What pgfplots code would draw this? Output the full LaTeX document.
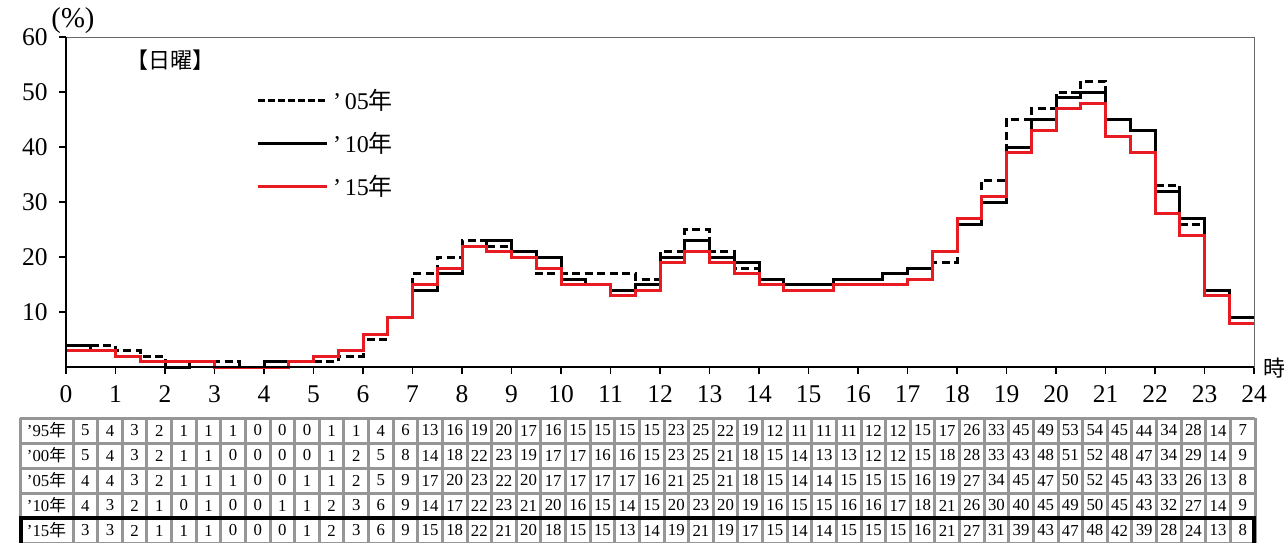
\documentclass[border=0pt]{standalone}
\usepackage{pgfplots}
\usepackage{pgfplotstable}
\pgfplotsset{compat=1.18}
\usepackage{fontspec}
\setmainfont{Liberation Serif}
\newfontfamily\jp{Noto Sans CJK JP}
\definecolor{myred}{RGB}{232,26,34}
\definecolor{tgrid}{RGB}{150,150,150}

\pgfplotstableread{
t y95 y00 y05 y10 y15
0 5 5 4 4 3
0.5 4 4 4 3 3
1 3 3 3 2 2
1.5 2 2 2 1 1
2 1 1 1 0 1
2.5 1 1 1 1 1
3 1 0 1 0 0
3.5 0 0 0 0 0
4 0 0 0 1 0
4.5 0 0 1 1 1
5 1 1 1 2 2
5.5 1 2 2 3 3
6 4 5 5 6 6
6.5 6 8 9 9 9
7 13 14 17 14 15
7.5 16 18 20 17 18
8 19 22 23 22 22
8.5 20 23 22 23 21
9 17 19 20 21 20
9.5 16 17 17 20 18
10 15 17 17 16 15
10.5 15 16 17 15 15
11 15 16 17 14 13
11.5 15 15 16 15 14
12 23 23 21 20 19
12.5 25 25 25 23 21
13 22 21 21 20 19
13.5 19 18 18 19 17
14 12 15 15 16 15
14.5 11 14 14 15 14
15 11 13 14 15 14
15.5 11 13 15 16 15
16 12 12 15 16 15
16.5 12 12 15 17 15
17 15 15 16 18 16
17.5 17 18 19 21 21
18 26 28 27 26 27
18.5 33 33 34 30 31
19 45 43 45 40 39
19.5 49 48 47 45 43
20 53 51 50 49 47
20.5 54 52 52 50 48
21 45 48 45 45 42
21.5 44 47 43 43 39
22 34 34 33 32 28
22.5 28 29 26 27 24
23 14 14 13 14 13
23.5 7 9 8 9 8
24 7 9 8 9 8
}\data

\newcommand\tabfont{\fontsize{6.7}{7}\selectfont}

\begin{document}
\begin{tikzpicture}
\begin{axis}[
  at={(26.4pt,-146.8pt)}, anchor=south west,
  scale only axis, width=475.2pt, height=132pt,
  xmin=0, xmax=24, ymin=0, ymax=60,
  xtick={0,1,...,24}, ytick={10,20,...,60},
  tick pos=left, tick align=outside,
  major tick length=2.6pt,
  tick style={black, line width=0.5pt},
  axis line style={draw=tgrid!70!black, line width=0.4pt},
  /pgf/number format/assume math mode=true,
  ticklabel style={font=\fontsize{10.2}{11}\selectfont},
  xticklabel style={yshift=-1.2pt},
  yticklabel style={xshift=-1.2pt},
  clip=false,
]
\addplot[const plot, black, line width=1.2pt, dash pattern=on 3.2pt off 1.8pt] table[x=t, y=y05] {\data};
\addplot[const plot, black, line width=1.2pt] table[x=t, y=y10] {\data};
\addplot[const plot, myred, line width=1.2pt] table[x=t, y=y15] {\data};
\end{axis}
% left and bottom axis lines in black
\draw[black, line width=0.6pt] (26.4pt,-14.8pt) -- (26.4pt,-146.8pt) -- (501.6pt,-146.8pt);

% (%) label, title, hour label
\node[font=\fontsize{11.5}{12}\selectfont] at (29.2pt,-8.4pt) {(\%)};
\node[font=\jp\fontsize{8.8}{10}\selectfont] at (68pt,-24pt) {【日曜】};
\node[font=\jp\fontsize{8.8}{10}\selectfont] at (509.6pt,-147.2pt) {時};

% legend
\draw[black, line width=1.2pt, dash pattern=on 2.6pt off 1.4pt] (103.2pt,-40pt) -- (130.8pt,-40pt);
\draw[black, line width=1.2pt] (103.2pt,-57.2pt) -- (130.8pt,-57.2pt);
\draw[myred, line width=1.2pt] (103.2pt,-74.4pt) -- (130.8pt,-74.4pt);
\node[anchor=west, font=\fontsize{9.6}{10}\selectfont, inner sep=0pt] at (133pt,-40pt) {’\,05{\jp 年}};
\node[anchor=west, font=\fontsize{9.6}{10}\selectfont, inner sep=0pt] at (133pt,-57.2pt) {’\,10{\jp 年}};
\node[anchor=west, font=\fontsize{9.6}{10}\selectfont, inner sep=0pt] at (133pt,-74.4pt) {’\,15{\jp 年}};

% table grid
\foreach \r in {0,...,5} {
  \pgfmathsetmacro\yy{-167.2-10*\r}
  \draw[tgrid, line width=1.2pt] (8pt,\yy pt) -- (502pt,\yy pt);
}
\draw[tgrid, line width=1.2pt] (8pt,-167.2pt) -- (8pt,-218pt);
\foreach \k in {0,...,48} {
  \pgfmathsetmacro\xx{29.2+9.85*\k}
  \draw[tgrid, line width=1.2pt] (\xx pt,-167.2pt) -- (\xx pt,-218pt);
}
\draw[black, line width=1.4pt] (8.4pt,-218pt) -- (8.4pt,-207.2pt) -- (501.6pt,-207.2pt) -- (501.6pt,-218pt);

% table text
\foreach \c/\lab [count=\r from 0] in {y95/95,y00/00,y05/05,y10/10,y15/15} {
  \pgfmathsetmacro\yy{-172.2-10*\r}
  \node[font=\tabfont] at (18.6pt,\yy pt) {’\lab{\jp 年}};
  \foreach \i in {0,...,47} {
    \pgfplotstablegetelem{\i}{\c}\of\data
    \pgfmathsetmacro\xx{34.125+9.85*\i}
    \node[font=\tabfont] at (\xx pt,\yy pt) {\pgfplotsretval};
  }
}
\pgfresetboundingbox
\useasboundingbox (0pt,0pt) rectangle (513.6pt,-216.8pt);
\end{tikzpicture}
\end{document}
